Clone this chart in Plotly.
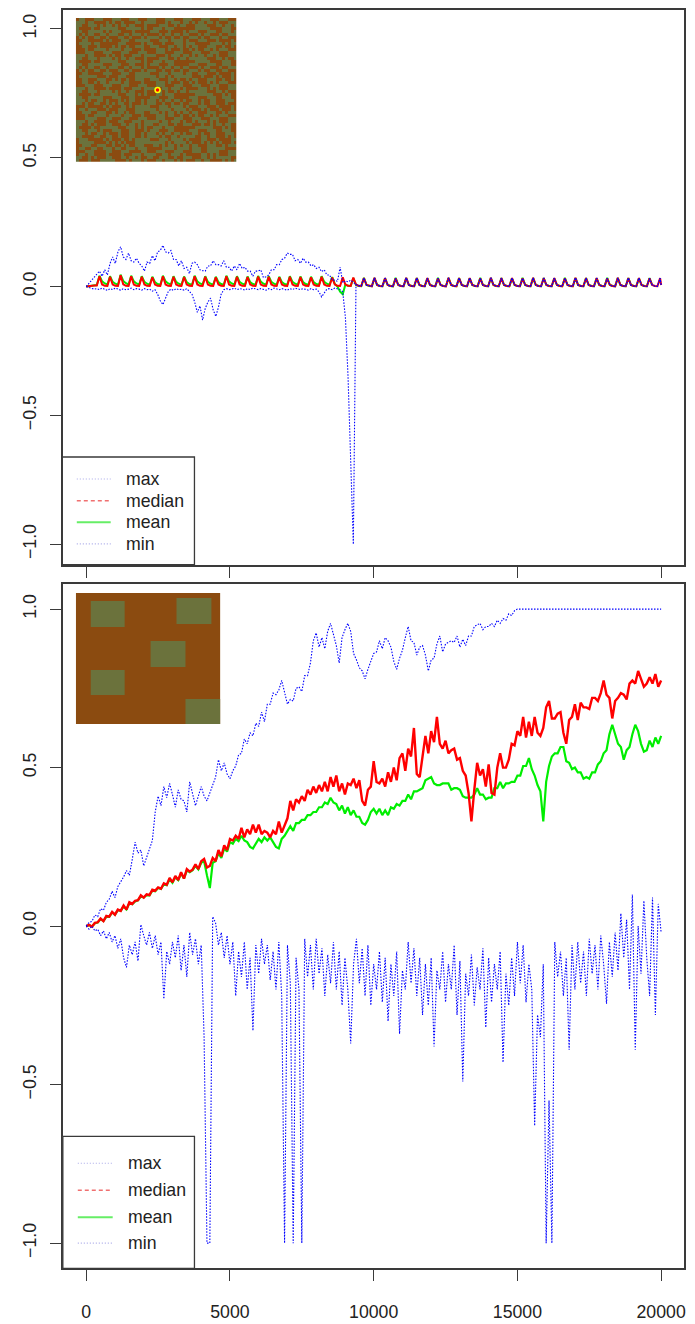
import plotly.graph_objects as go

# page body has an 8px margin; figure is sized so the page is exactly 695x1324
OFF = 8
FIG_W, FIG_H = 695 - OFF, 1324 - OFF

# ---------------- data: top panel (time grid step 92) ----------------
T_TOP = list(range(0, 20000, 92)) + [20000]

median_top = [0.0, 0.002, 0.004, 0.004, 0.004,
    0.040, 0.008, 0.003, 0.002,  0.038, 0.008, 0.003, 0.002,  0.044, 0.009, 0.003, 0.002,
    0.040, 0.008, 0.003, 0.002,  0.038, 0.008, 0.003, 0.002,  0.036, 0.008, 0.003, 0.002,
    0.040, 0.008, 0.003, 0.002,  0.038, 0.008, 0.003, 0.002,  0.037, 0.008, 0.003, 0.002,
    0.040, 0.008, 0.003, 0.002,  0.038, 0.008, 0.003, 0.002,  0.036, 0.008, 0.003, 0.002,
    0.040, 0.008, 0.003, 0.002,  0.038, 0.008, 0.003, 0.002,  0.037, 0.008, 0.003, 0.002,
    0.039, 0.008, 0.003, 0.002,  0.038, 0.008, 0.003, 0.002,  0.036, 0.008, 0.003, 0.002,
    0.038, 0.008, 0.003, 0.002,  0.037, 0.008, 0.003, 0.002,  0.036, 0.008, 0.003, 0.002,
    0.038, 0.008, 0.003, 0.002,  0.035, 0.008, 0.003, 0.002,  0.036, 0.008, 0.003, 0.002,
    0.035, 0.008, 0.003, 0.002,
    0.033, 0.006, 0.002, 0.001,  0.034, 0.006, 0.002, 0.001,  0.033, 0.006, 0.002, 0.001,
    0.032, 0.006, 0.002, 0.001,  0.034, 0.006, 0.002, 0.001,  0.033, 0.006, 0.002, 0.001,
    0.033, 0.006, 0.002, 0.001,  0.032, 0.006, 0.002, 0.001,  0.034, 0.006, 0.002, 0.001,
    0.033, 0.006, 0.002, 0.001,  0.033, 0.006, 0.002, 0.001,  0.032, 0.006, 0.002, 0.001,
    0.034, 0.006, 0.002, 0.001,  0.033, 0.006, 0.002, 0.001,  0.033, 0.006, 0.002, 0.001,
    0.032, 0.006, 0.002, 0.001,  0.034, 0.006, 0.002, 0.001,  0.033, 0.006, 0.002, 0.001,
    0.033, 0.006, 0.002, 0.001,  0.032, 0.006, 0.002, 0.001,  0.034, 0.006, 0.002, 0.001,
    0.033, 0.006, 0.002, 0.001,  0.033, 0.006, 0.002, 0.001,  0.032, 0.006, 0.002, 0.001,
    0.034, 0.006, 0.002, 0.001,  0.033, 0.006, 0.002, 0.001,  0.033, 0.006, 0.002, 0.001,
    0.032, 0.006, 0.002, 0.001,
    0.033, 0.006]

mean_top_early = [0.0, 0.002, 0.004, 0.005, 0.006,
    0.042, 0.020, 0.012, 0.008,  0.040, 0.018, 0.011, 0.007,  0.046, 0.022, 0.013, 0.008,
    0.042, 0.020, 0.012, 0.008,  0.040, 0.018, 0.011, 0.007,  0.038, 0.017, 0.010, 0.007,
    0.042, 0.020, 0.012, 0.008,  0.040, 0.018, 0.011, 0.007,  0.039, 0.017, 0.010, 0.007,
    0.042, 0.020, 0.012, 0.008,  0.040, 0.018, 0.011, 0.007,  0.038, 0.017, 0.010, 0.007,
    0.042, 0.020, 0.012, 0.008,  0.040, 0.018, 0.011, 0.007,  0.039, 0.017, 0.010, 0.007,
    0.041, 0.019, 0.011, 0.007,  0.040, 0.018, 0.011, 0.007,  0.038, 0.017, 0.010, 0.007,
    0.040, 0.018, 0.011, 0.007,  0.039, 0.017, 0.010, 0.007,  0.038, 0.017, 0.010, 0.007,
    0.040, 0.018, 0.011, 0.007,  0.037, 0.010, 0.000, -0.020,
    -0.030]

max_top_early = [0.0, 0.012, 0.02, 0.035, 0.045, 0.06, 0.04, 0.065, 0.045, 0.09,
    0.115, 0.09, 0.135, 0.155, 0.115, 0.105, 0.13, 0.10, 0.095, 0.11,
    0.09, 0.08, 0.06, 0.095, 0.09, 0.12, 0.10, 0.135, 0.14, 0.16,
    0.135, 0.13, 0.14, 0.105, 0.105, 0.08, 0.10, 0.07, 0.075, 0.05,
    0.09, 0.095, 0.085, 0.065, 0.062, 0.06, 0.08, 0.08, 0.10, 0.085,
    0.085, 0.08, 0.10, 0.075, 0.075, 0.06, 0.08, 0.065, 0.09, 0.07,
    0.075, 0.06, 0.06, 0.04, 0.06, 0.06, 0.065, 0.035, 0.038, 0.045,
    0.065, 0.065, 0.085, 0.085, 0.105, 0.11, 0.13, 0.125, 0.125, 0.10,
    0.105, 0.09, 0.11, 0.095, 0.095, 0.08, 0.085, 0.07, 0.075, 0.058,
    0.065, 0.045, 0.045, 0.025, 0.025, 0.02, 0.075, 0.015, 0.022, 0.018,
    0.025, 0.015]

min_top_early = [0.0, -0.004, -0.006, -0.01, -0.008, -0.012, -0.006, -0.01, -0.015, -0.008,
    -0.012, -0.006, -0.01, -0.014, -0.008, -0.012, -0.01, -0.006, -0.012, -0.008,
    -0.01, -0.014, -0.008, -0.012, -0.01, -0.018, -0.012, -0.03, -0.055, -0.07,
    -0.045, -0.02, -0.01, -0.015, -0.008, -0.012, -0.01, -0.014, -0.008, -0.02,
    -0.03, -0.06, -0.10, -0.075, -0.13, -0.085, -0.06, -0.045, -0.09, -0.116,
    -0.08, -0.03, -0.012, -0.008, -0.012, -0.01, -0.006, -0.012, -0.008, -0.01,
    -0.014, -0.008, -0.012, -0.006, -0.01, -0.012, -0.008, -0.01, -0.014, -0.008,
    -0.012, -0.006, -0.01, -0.012, -0.008, -0.01, -0.014, -0.008, -0.012, -0.006,
    -0.01, -0.012, -0.008, -0.01, -0.014, -0.008, -0.012, -0.01, -0.02, -0.04,
    -0.025, -0.01, -0.008, -0.012, -0.006, -0.01, -0.012, -0.02, -0.12, -0.35,
    -0.70, -1.0]

# after the population collapses (t > ~9300) all statistics coincide with the median
n_early = len(max_top_early)
max_top = max_top_early + median_top[n_early:]
min_top = min_top_early + median_top[n_early:]
mean_top = mean_top_early + median_top[n_early:]

# ---------------- data: bottom panel (time grid step 100) ----------------
T_BOT = list(range(0, 20001, 100))

max_bot = [0.0, 0.012, 0.015, 0.035, 0.03, 0.055, 0.05, 0.075, 0.085, 0.11,
    0.09, 0.125, 0.14, 0.155, 0.175, 0.16, 0.21, 0.265, 0.23, 0.24,
    0.19, 0.215, 0.24, 0.27, 0.36, 0.41, 0.38, 0.44, 0.405, 0.45,
    0.415, 0.375, 0.43, 0.40, 0.395, 0.36, 0.455, 0.42, 0.38, 0.41,
    0.44, 0.41, 0.395, 0.42, 0.445, 0.47, 0.525, 0.49, 0.515, 0.48,
    0.465, 0.49, 0.505, 0.54, 0.545, 0.59, 0.575, 0.61, 0.60, 0.64,
    0.63, 0.675, 0.645, 0.70, 0.70, 0.735, 0.73, 0.745, 0.775, 0.735,
    0.70, 0.715, 0.71, 0.75, 0.755, 0.74, 0.79, 0.79, 0.83, 0.90,
    0.925, 0.88, 0.91, 0.875, 0.93, 0.955, 0.92, 0.885, 0.83, 0.91,
    0.935, 0.955, 0.93, 0.86, 0.84, 0.815, 0.805, 0.78, 0.81, 0.835,
    0.86, 0.865, 0.90, 0.875, 0.91, 0.90, 0.88, 0.835, 0.81, 0.845,
    0.87, 0.91, 0.945, 0.90, 0.895, 0.855, 0.88, 0.885, 0.855, 0.805,
    0.84, 0.845, 0.89, 0.915, 0.865, 0.89, 0.895, 0.90, 0.895, 0.915,
    0.88, 0.905, 0.885, 0.915, 0.915, 0.945, 0.95, 0.955, 0.935, 0.945,
    0.945, 0.955, 0.945, 0.965, 0.955, 0.97, 0.965, 0.985, 0.98, 0.995,
    1.0, 1.0, 1.0, 1.0, 1.0, 1.0, 1.0, 1.0, 1.0, 1.0,
    1.0, 1.0, 1.0, 1.0, 1.0, 1.0, 1.0, 1.0, 1.0, 1.0,
    1.0, 1.0, 1.0, 1.0, 1.0, 1.0, 1.0, 1.0, 1.0, 1.0,
    1.0, 1.0, 1.0, 1.0, 1.0, 1.0, 1.0, 1.0, 1.0, 1.0,
    1.0, 1.0, 1.0, 1.0, 1.0, 1.0, 1.0, 1.0, 1.0, 1.0,
    1.0]

median_bot = [0.0, 0.004, -0.002, 0.01, 0.012, 0.024, 0.016, 0.032, 0.03, 0.045,
    0.036, 0.052, 0.048, 0.065, 0.052, 0.075, 0.07, 0.08, 0.082, 0.097,
    0.09, 0.10, 0.098, 0.115, 0.112, 0.122, 0.118, 0.135, 0.13, 0.152,
    0.138, 0.158, 0.145, 0.17, 0.15, 0.18, 0.172, 0.178, 0.195, 0.18,
    0.205, 0.212, 0.185, 0.19, 0.215, 0.205, 0.24, 0.22, 0.255, 0.24,
    0.275, 0.27, 0.285, 0.275, 0.31, 0.28, 0.305, 0.29, 0.32, 0.295,
    0.32, 0.29, 0.30, 0.295, 0.28, 0.30, 0.29, 0.33, 0.295, 0.315,
    0.34, 0.395, 0.365, 0.40, 0.39, 0.41, 0.395, 0.43, 0.415, 0.44,
    0.42, 0.445, 0.425, 0.455, 0.425, 0.47, 0.44, 0.475, 0.425, 0.45,
    0.415, 0.45, 0.445, 0.465, 0.435, 0.46, 0.395, 0.38, 0.43, 0.44,
    0.52, 0.455, 0.45, 0.465, 0.44, 0.485, 0.455, 0.50, 0.46, 0.53,
    0.545, 0.49, 0.56, 0.535, 0.625, 0.48, 0.47, 0.535, 0.60, 0.545,
    0.615, 0.58, 0.66, 0.575, 0.56, 0.585, 0.545, 0.555, 0.56, 0.525,
    0.53, 0.49, 0.475, 0.42, 0.33, 0.43, 0.515, 0.475, 0.495, 0.44,
    0.51, 0.42, 0.415, 0.50, 0.545, 0.50, 0.50, 0.525, 0.575, 0.57,
    0.615, 0.60, 0.66, 0.595, 0.645, 0.60, 0.66, 0.61, 0.60, 0.625,
    0.69, 0.71, 0.655, 0.655, 0.67, 0.675, 0.61, 0.575, 0.65, 0.66,
    0.70, 0.65, 0.705, 0.69, 0.69, 0.685, 0.72, 0.72, 0.71, 0.735,
    0.775, 0.73, 0.72, 0.655, 0.71, 0.72, 0.735, 0.73, 0.715, 0.765,
    0.775, 0.765, 0.805, 0.78, 0.755, 0.765, 0.785, 0.765, 0.795, 0.755,
    0.775]

mean_bot = [0.0, 0.003, -0.001, 0.009, 0.011, 0.022, 0.016, 0.03, 0.029, 0.043,
    0.036, 0.05, 0.048, 0.062, 0.053, 0.072, 0.069, 0.078, 0.081, 0.094,
    0.09, 0.098, 0.097, 0.112, 0.11, 0.12, 0.117, 0.132, 0.129, 0.148,
    0.137, 0.154, 0.145, 0.166, 0.15, 0.176, 0.17, 0.176, 0.19, 0.179,
    0.2, 0.205, 0.16, 0.12, 0.2, 0.205, 0.23, 0.215, 0.245, 0.235,
    0.265, 0.26, 0.275, 0.268, 0.285, 0.27, 0.265, 0.25, 0.245, 0.26,
    0.275, 0.265, 0.28, 0.27, 0.28, 0.265, 0.25, 0.245, 0.275, 0.285,
    0.30, 0.315, 0.3, 0.325, 0.325, 0.335, 0.335, 0.35, 0.35, 0.36,
    0.36, 0.375, 0.375, 0.39, 0.385, 0.405, 0.39, 0.385, 0.365, 0.38,
    0.355, 0.375, 0.35, 0.365, 0.345, 0.345, 0.325, 0.32, 0.335, 0.36,
    0.37, 0.355, 0.37, 0.35, 0.365, 0.35, 0.375, 0.37, 0.385, 0.38,
    0.395, 0.395, 0.415, 0.4, 0.425, 0.425, 0.43, 0.435, 0.46, 0.465,
    0.47, 0.45, 0.445, 0.445, 0.45, 0.45, 0.45, 0.43, 0.435, 0.435,
    0.43, 0.41, 0.405, 0.405, 0.405, 0.415, 0.435, 0.415, 0.415, 0.4,
    0.405, 0.405, 0.435, 0.435, 0.455, 0.435, 0.45, 0.45, 0.455, 0.455,
    0.475, 0.475, 0.505, 0.505, 0.53, 0.495, 0.475, 0.445, 0.425, 0.33,
    0.455, 0.505, 0.535, 0.545, 0.545, 0.565, 0.565, 0.52, 0.515, 0.495,
    0.5, 0.485, 0.485, 0.465, 0.47, 0.465, 0.485, 0.485, 0.51, 0.52,
    0.545, 0.555, 0.605, 0.635, 0.605, 0.575, 0.565, 0.525, 0.555, 0.565,
    0.605, 0.635, 0.615, 0.575, 0.55, 0.555, 0.585, 0.565, 0.595, 0.575,
    0.6]

min_bot = [0.0, -0.01, 0.0, -0.015, -0.01, -0.03, -0.015, -0.04, -0.02, -0.05,
    -0.03, -0.07, -0.04, -0.10, -0.13, -0.06, -0.09, -0.05, -0.11, 0.005,
    -0.03, -0.06, -0.02, -0.07, -0.03, -0.09, -0.05, -0.23, -0.08, -0.12,
    -0.05, -0.10, -0.03, -0.14, -0.06, -0.16, -0.02, -0.09, -0.04, -0.12,
    -0.06, -0.35, -1.0, -1.0, 0.03, 0.01, -0.06, -0.02, -0.10, -0.03,
    -0.12, -0.05, -0.22, -0.08, -0.16, -0.05, -0.20, -0.10, -0.33, -0.06,
    -0.15, -0.04, -0.12, -0.06, -0.17, -0.08, -0.20, -0.05, -0.22, -1.0,
    -0.06, -0.18, -1.0, -0.10, -0.20, -1.0, -0.04, -0.16, -0.06, -0.20,
    -0.04, -0.15, -0.07, -0.22, -0.09, -0.18, -0.05, -0.20, -0.08, -0.25,
    -0.10, -0.20, -0.37, -0.12, -0.04, -0.18, -0.07, -0.22, -0.06, -0.25,
    -0.12, -0.20, -0.08, -0.24, -0.10, -0.30, -0.12, -0.22, -0.08, -0.34,
    -0.14, -0.20, -0.05, -0.18, -0.07, -0.22, -0.10, -0.28, -0.12, -0.25,
    -0.10, -0.38, -0.14, -0.20, -0.08, -0.24, -0.12, -0.20, -0.06, -0.28,
    -0.11, -0.49, -0.15, -0.22, -0.09, -0.25, -0.13, -0.20, -0.07, -0.32,
    -0.10, -0.24, -0.12, -0.20, -0.08, -0.43, -0.15, -0.25, -0.10, -0.22,
    -0.05, -0.18, -0.06, -0.24, -0.12, -0.20, -0.63, -0.28, -0.35, -0.12,
    -1.0, -0.55, -1.0, -0.05, -0.16, -0.08, -0.22, -0.10, -0.39, -0.06,
    -0.20, -0.05, -0.18, -0.08, -0.22, -0.04, -0.15, -0.06, -0.20, -0.03,
    -0.12, -0.245, -0.05, -0.16, -0.02, -0.14, 0.04, -0.10, 0.02, -0.20,
    0.10, -0.39, 0.0, -0.15, 0.08, -0.10, -0.22, 0.09, -0.28, 0.07,
    -0.02]

# ---------------- inset maps ----------------
# bottom inset: habitat patch rectangles in landscape units (145 x 131)
patch_x0 = [15, 101, 75, 15, 110]
patch_x1 = [49, 136, 110, 49, 145]
patch_y0 = [8, 5, 48, 77, 106]
patch_y1 = [34, 31, 74, 102, 131]

BROWN = "#8B4B10"
OLIVE = "#6B723C"

Y_TICKS = [-1.0, -0.5, 0.0, 0.5, 1.0]
Y_TICKTEXT = ["\u22121.0", "\u22120.5", "0.0", "0.5", "1.0"]
X_TICKS = [0, 5000, 10000, 15000, 20000]
X_TICKTEXT = ["0", "5000", "10000", "15000", "20000"]
LEGEND_LABELS = ["max", "median", "mean", "min"]

FONT = "Liberation Sans, Arial, Helvetica, sans-serif"
FS = 17.7
AXC = "#3a3a3a"


def px(x):
    return (x - OFF) / FIG_W


def py(y):
    return 1 - (y - OFF) / FIG_H


fig = go.Figure()

BLUE_DOT = dict(color="#0000FF", width=1.1, dash="1.5px,1.5px")

# top panel
fig.add_trace(go.Scatter(x=T_TOP, y=mean_top, mode="lines", line=dict(color="#00EE00", width=2), xaxis="x", yaxis="y"))
fig.add_trace(go.Scatter(x=T_TOP, y=median_top, mode="lines", line=dict(color="#FF0000", width=2), xaxis="x", yaxis="y"))
fig.add_trace(go.Scatter(x=T_TOP, y=max_top, mode="lines", line=BLUE_DOT, xaxis="x", yaxis="y"))
fig.add_trace(go.Scatter(x=T_TOP, y=min_top, mode="lines", line=BLUE_DOT, xaxis="x", yaxis="y"))

# bottom panel
fig.add_trace(go.Scatter(x=T_BOT, y=mean_bot, mode="lines", line=dict(color="#00EE00", width=2.2), xaxis="x2", yaxis="y2"))
fig.add_trace(go.Scatter(x=T_BOT, y=median_bot, mode="lines", line=dict(color="#FF0000", width=2.4), xaxis="x2", yaxis="y2"))
fig.add_trace(go.Scatter(x=T_BOT, y=max_bot, mode="lines", line=BLUE_DOT, xaxis="x2", yaxis="y2"))
fig.add_trace(go.Scatter(x=T_BOT, y=min_bot, mode="lines", line=BLUE_DOT, xaxis="x2", yaxis="y2"))

# top inset: binary habitat texture (54 x 48 cells), deterministic pattern
rows, cols = 48, 54
texture = []
for i in range(rows):
    row = []
    for j in range(cols):
        h = ((i * 73856093) ^ (j * 19349663)) * 2654435761 & 0xFFFFFFFF
        row.append((h >> 15) & 1)
    texture.append(row)
fig.add_trace(go.Heatmap(z=texture, colorscale=[[0, BROWN], [0.5, BROWN], [0.5, OLIVE], [1, OLIVE]],
                         zmin=0, zmax=1, showscale=False, xaxis="x3", yaxis="y3", hoverinfo="skip"))
fig.add_trace(go.Scatter(x=[27], y=[23.5], mode="markers", xaxis="x3", yaxis="y3",
                         marker=dict(symbol="circle", size=5, color="red", line=dict(color="yellow", width=1.5))))

# bottom inset marker
fig.add_trace(go.Scatter(x=[74], y=[65], mode="markers", xaxis="x4", yaxis="y4",
                         marker=dict(symbol="square", size=5, color="#2040c0", line=dict(color="yellow", width=1.5))))

shapes = []
shapes.append(dict(type="rect", xref="x4", yref="y4", x0=0, x1=145, y0=0, y1=131,
                   fillcolor=BROWN, line=dict(width=0), layer="above"))
for a, b, c, d in zip(patch_x0, patch_x1, patch_y0, patch_y1):
    shapes.append(dict(type="rect", xref="x4", yref="y4", x0=a, x1=b, y0=c, y1=d,
                       fillcolor=OLIVE, line=dict(width=0), layer="above"))

annotations = []


def add_legend(box, ys, x_line, x_text):
    x0, x1, y0, y1 = box
    shapes.append(dict(type="rect", xref="paper", yref="paper", x0=px(x0), x1=px(x1), y0=py(y1), y1=py(y0),
                       fillcolor="white", line=dict(color=AXC, width=1.3), layer="above"))
    styles = [dict(color="#a8a8e8", width=1.2, dash="1px,2px"),
              dict(color="#f07070", width=1.4, dash="4px,3px"),
              dict(color="#66ee66", width=2),
              dict(color="#a8a8e8", width=1.2, dash="1px,2px")]
    for lab, yy, st in zip(LEGEND_LABELS, ys, styles):
        shapes.append(dict(type="line", xref="paper", yref="paper", x0=px(x_line[0]), x1=px(x_line[1]),
                           y0=py(yy), y1=py(yy), line=st, layer="above"))
        annotations.append(dict(text=lab, xref="paper", yref="paper", x=px(x_text), y=py(yy),
                                xanchor="left", yanchor="middle", showarrow=False,
                                font=dict(family=FONT, size=FS, color="#222")))


add_legend((62.5, 195, 455.7, 563.6), [477.7, 499.5, 521, 542.7], (77, 111), 124)
add_legend((63, 195, 1136, 1268.4), [1163, 1190, 1217, 1243], (78, 113), 126)

axis_common = dict(showgrid=False, zeroline=False, showline=True, linecolor=AXC, linewidth=1.5, mirror=True,
                   ticks="outside", ticklen=11, tickwidth=1.4, tickcolor=AXC,
                   tickfont=dict(family=FONT, size=FS, color="#222"), fixedrange=True)

XDOM = [px(63.4), px(686.1)]
# top panel: 1.0 at y=27, -1.0 at y=543 (258 px per unit); the box top is clipped at the page offset
top_ymax = 1 + (27 - OFF) / 258.0

fig.update_layout(
    width=FIG_W, height=FIG_H, margin=dict(l=0, r=0, t=0, b=0),
    paper_bgcolor="white", plot_bgcolor="white", showlegend=False,
    xaxis=dict(domain=XDOM, range=[-800, 20800], anchor="y", tickmode="array", tickvals=X_TICKS,
               showticklabels=False, **axis_common),
    yaxis=dict(domain=[py(563.6), 1.0], range=[-1.08, top_ymax], anchor="x", tickmode="array",
               tickvals=Y_TICKS, ticktext=Y_TICKTEXT, tickangle=-90, ticklabelstandoff=7, **axis_common),
    xaxis2=dict(domain=XDOM, range=[-800, 20800], anchor="y2", tickmode="array", tickvals=X_TICKS,
                ticktext=X_TICKTEXT, ticklabelstandoff=16, **axis_common),
    yaxis2=dict(domain=[py(1268.4), py(582.6)], range=[-1.08, 1.08], anchor="x2", tickmode="array",
                tickvals=Y_TICKS, ticktext=Y_TICKTEXT, tickangle=-90, ticklabelstandoff=7, **axis_common),
    xaxis3=dict(domain=[px(76), px(237)], range=[-0.5, cols - 0.5], anchor="y3", visible=False, fixedrange=True),
    yaxis3=dict(domain=[py(160), py(16)], range=[rows - 0.5, -0.5], anchor="x3", visible=False, fixedrange=True),
    xaxis4=dict(domain=[px(76), px(221)], range=[0, 145], anchor="y4", visible=False, fixedrange=True),
    yaxis4=dict(domain=[py(723), py(592)], range=[131, 0], anchor="x4", visible=False, fixedrange=True),
    shapes=shapes, annotations=annotations,
)

fig.write_html("out.html")
